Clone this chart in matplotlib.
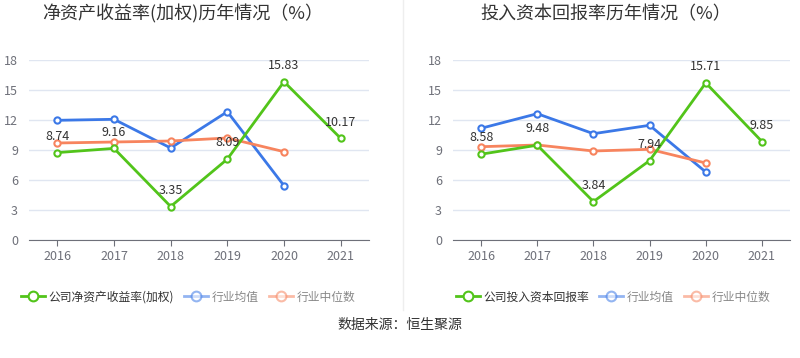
import matplotlib
matplotlib.use("Agg")
import matplotlib.pyplot as plt
from matplotlib.lines import Line2D

plt.rcParams['font.family'] = ['Noto Sans CJK SC', 'DejaVu Sans']

years = ["2016", "2017", "2018", "2019", "2020", "2021"]

roe_company = [8.74, 9.16, 3.35, 8.09, 15.83, 10.17]
roe_mean = [11.97, 12.07, 9.2, 12.83, 5.43]
roe_median = [9.7, 9.8, 9.9, 10.2, 8.83]

roic_company = [8.58, 9.48, 3.84, 7.94, 15.71, 9.85]
roic_mean = [11.17, 12.63, 10.63, 11.47, 6.8]
roic_median = [9.33, 9.5, 8.9, 9.07, 7.7]

GREEN = "#52c41a"
BLUE = "#3b78e7"
ORANGE = "#f7845e"

fig = plt.figure(figsize=(8, 3.58), dpi=100)


def draw_panel(rect, title, company, mean, median, legend_name, legend_x):
    ax = fig.add_axes(rect)
    x = list(range(len(years)))
    style = dict(marker="o", markersize=4.5, markerfacecolor="white",
                 markeredgewidth=1.5, linewidth=2)
    ax.plot(x[:len(mean)], mean, color=BLUE, zorder=3, **style)
    ax.plot(x[:len(median)], median, color=ORANGE, zorder=3, **style)
    ax.plot(x, company, color=GREEN, zorder=4, **style)
    for i, v in enumerate(company):
        ax.annotate(f"{v:.2f}", (i, v), xytext=(0, 7), textcoords="offset points",
                    ha="center", va="bottom", fontsize=9, color="#333333", zorder=5)
    ax.set_xlim(-0.5, len(years) - 0.5)
    ax.set_ylim(0, 18)
    ax.set_yticks(range(0, 19, 3))
    ax.set_xticks(x)
    ax.set_xticklabels(years)
    ax.grid(axis="y", color="#e0e6f1", linewidth=1)
    ax.set_axisbelow(True)
    for s in ["top", "right", "left"]:
        ax.spines[s].set_visible(False)
    ax.spines["bottom"].set_color("#6e7079")
    ax.tick_params(axis="y", length=0, labelsize=9, labelcolor="#6e7079", pad=8)
    ax.tick_params(axis="x", length=4, color="#6e7079", labelsize=9,
                   labelcolor="#6e7079", pad=3)
    cx = rect[0] + rect[2] / 2
    fig.text(cx - 0.02, 0.96, title, ha="center", va="center", fontsize=13,
             color="#333333")

    handles = [
        Line2D([], [], color=GREEN, marker="o", markerfacecolor="white",
               markeredgewidth=1.5, markersize=7, linewidth=2),
        Line2D([], [], color=BLUE, alpha=0.55, marker="o", markerfacecolor="white",
               markeredgewidth=1.5, markersize=7, linewidth=2),
        Line2D([], [], color=ORANGE, alpha=0.55, marker="o", markerfacecolor="white",
               markeredgewidth=1.5, markersize=7, linewidth=2),
    ]
    leg = fig.legend(handles, [legend_name, "行业均值", "行业中位数"], ncol=3,
                     loc="center", bbox_to_anchor=(legend_x, 1 - 297 / 358),
                     frameon=False, fontsize=8.5, handlelength=2.0,
                     handletextpad=0.3, columnspacing=0.9)
    for t, c in zip(leg.get_texts(), ["#333333", "#888888", "#888888"]):
        t.set_color(c)


draw_panel([29 / 800, 1 - 240 / 358, 340 / 800, 180 / 358],
           "净资产收益率(加权)历年情况（%）", roe_company, roe_mean, roe_median,
           "公司净资产收益率(加权)", 188 / 800)
draw_panel([453 / 800, 1 - 240 / 358, 337 / 800, 180 / 358],
           "投入资本回报率历年情况（%）", roic_company, roic_mean, roic_median,
           "公司投入资本回报率", 613 / 800)

fig.add_artist(Line2D([403 / 800, 403 / 800], [1 - 310 / 358, 1.0],
                      color="#eeeeee", linewidth=1))
fig.text(0.5, 1 - 325 / 358, "数据来源：恒生聚源", ha="center", va="center",
         fontsize=10, color="#333333")

fig.savefig("out.png", dpi=100)
